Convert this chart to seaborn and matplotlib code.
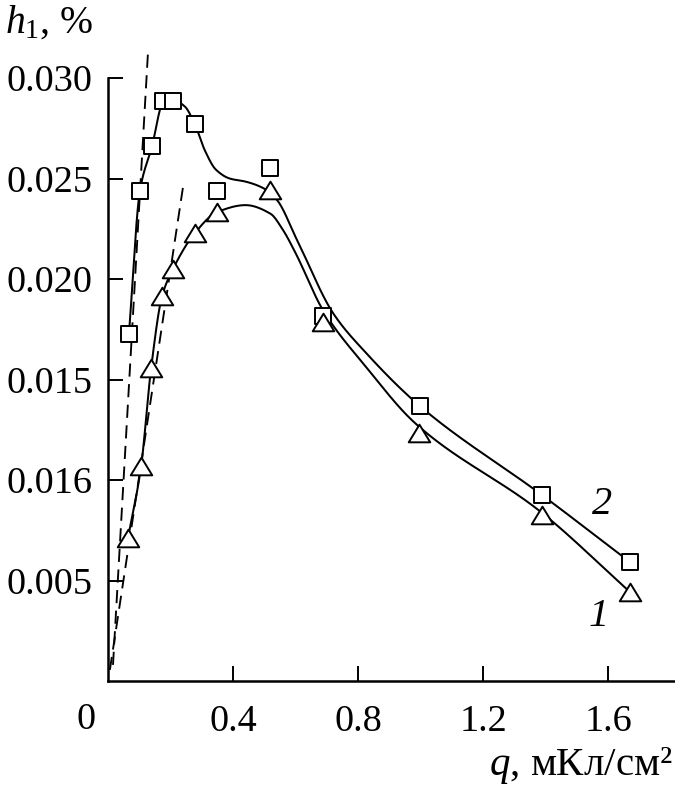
import numpy as np
import matplotlib
matplotlib.use('Agg')
import matplotlib.pyplot as plt
from matplotlib.path import Path
import seaborn as sns

# measured points, curve 1 (triangles) and curve 2 (squares)
q1 = [0.064, 0.106, 0.138, 0.173, 0.208, 0.278, 0.349, 0.518, 0.688, 0.995, 1.389, 1.670]
h1 = [0.00711, 0.0107, 0.01557, 0.01915, 0.0205, 0.02229, 0.02333, 0.02443, 0.01786, 0.01234, 0.00826, 0.00443]
q2 = [0.067, 0.102, 0.141, 0.176, 0.208, 0.278, 0.349, 0.518, 0.688, 0.998, 1.389, 1.670]
h2 = [0.01726, 0.02438, 0.02662, 0.02886, 0.02886, 0.02771, 0.02438, 0.02552, 0.01816, 0.01368, 0.00925, 0.00592]

# drawn (fitted) curves
fit1_q = [0.064, 0.106, 0.138, 0.173, 0.208, 0.278, 0.349, 0.44, 0.52, 0.56, 0.60, 0.688, 0.826, 0.982, 1.386, 1.670]
fit1_h = [0.00711, 0.0107, 0.01557, 0.01915, 0.0205, 0.02229, 0.02333, 0.02368, 0.02325, 0.02244, 0.0213, 0.01845, 0.01562, 0.01284, 0.0084, 0.00443]
fit2_q = [0.067, 0.102, 0.141, 0.176, 0.208, 0.245, 0.278, 0.31, 0.345, 0.39, 0.44, 0.50, 0.541, 0.605, 0.720, 0.826, 0.998, 1.389, 1.670]
fit2_h = [0.01726, 0.02438, 0.02662, 0.02876, 0.02891, 0.0286, 0.0277, 0.0264, 0.02545, 0.0250, 0.02485, 0.0245, 0.02393, 0.02194, 0.01831, 0.01632, 0.01368, 0.00925, 0.00592]

# initial-slope dashed lines
tan_a_q = [0.016, 0.128]
tan_a_h = [0.0008, 0.0313]
tan_b_q = [0.006, 0.240]
tan_b_h = [0.00055, 0.02458]

xticks = [0.4, 0.8, 1.2, 1.6]
xticklabels = ['0.4', '0.8', '1.2', '1.6']
yticks = [0.005, 0.010, 0.015, 0.020, 0.025, 0.030]
yticklabels = ['0.005', '0.016', '0.015', '0.020', '0.025', '0.030']


def pchip(x, y, xs):
    x = np.asarray(x, float)
    y = np.asarray(y, float)
    h = np.diff(x)
    d = np.diff(y) / h
    m = np.zeros_like(y)
    m[0], m[-1] = d[0], d[-1]
    for k in range(1, len(x) - 1):
        if d[k - 1] * d[k] > 0:
            w1 = 2 * h[k] + h[k - 1]
            w2 = h[k] + 2 * h[k - 1]
            m[k] = (w1 + w2) / (w1 / d[k - 1] + w2 / d[k])
    idx = np.clip(np.searchsorted(x, xs) - 1, 0, len(x) - 2)
    t = (xs - x[idx]) / h[idx]
    h00 = 2 * t**3 - 3 * t**2 + 1
    h10 = t**3 - 2 * t**2 + t
    h01 = -2 * t**3 + 3 * t**2
    h11 = t**3 - t**2
    return h00 * y[idx] + h10 * h[idx] * m[idx] + h01 * y[idx + 1] + h11 * h[idx] * m[idx + 1]


sns.set_style('ticks')
plt.rcParams['font.family'] = ['Liberation Serif', 'DejaVu Serif']
plt.rcParams['mathtext.fontset'] = 'custom'
plt.rcParams['mathtext.rm'] = 'Liberation Serif'
plt.rcParams['mathtext.it'] = 'Liberation Serif:italic'
plt.rcParams['text.color'] = 'black'

fig = plt.figure(figsize=(6.75, 7.9), dpi=100)
ax = fig.add_axes([0.16, 0.138, 0.838, 0.814])

for fq, fh in [(fit1_q, fit1_h), (fit2_q, fit2_h)]:
    xs = np.linspace(fq[0], fq[-1], 800)
    sns.lineplot(x=xs, y=pchip(fq, fh, xs), ax=ax, color='black', lw=1.45,
                 sort=False, estimator=None, zorder=2)

for tq, th in [(tan_a_q, tan_a_h), (tan_b_q, tan_b_h)]:
    sns.lineplot(x=tq, y=th, ax=ax, color='black', lw=1.35,
                 linestyle=(0, (7, 4)), sort=False, estimator=None, zorder=2)

tri = Path([(0, 0.82), (-1, -0.82), (1, -0.82), (0, 0.82)], closed=True)
sns.scatterplot(x=q2, y=h2, ax=ax, marker='s', s=135, color='black',
                facecolor='white', edgecolor='black', linewidth=1.4, zorder=3)
sns.scatterplot(x=q1, y=h1, ax=ax, marker=tri, s=240, color='black',
                facecolor='white', edgecolor='black', linewidth=1.4, zorder=4)

ax.set_xlim(0, 1.81)
ax.set_ylim(0, 0.032)
ax.set_xticks(xticks)
ax.set_xticklabels(xticklabels)
ax.set_yticks(yticks)
ax.set_yticklabels(yticklabels)
ax.tick_params(direction='in', length=11, width=1.4, labelsize=27.5, colors='black')
ax.tick_params(axis='x', pad=17)
ax.tick_params(axis='y', pad=11)
sns.despine(ax=ax)
ax.spines['left'].set_bounds(0, 0.030)
for s in ['left', 'bottom']:
    ax.spines[s].set_linewidth(1.8)
    ax.spines[s].set_color('black')
ax.set_xlabel('')
ax.set_ylabel('')

fig.text(86 / 675, 1 - 720 / 790, '0', fontsize=27.5, ha='center', va='center')
fig.text(5 / 675, 1 - 33 / 790, r'$h_1$, %', fontsize=28.5, ha='left', va='baseline')
fig.text(673 / 675, 1 - 775 / 790, r'$q$, мКл/см²', fontsize=29.5, ha='right', va='baseline')
ax.text(1.58, 0.0088, '2', fontsize=29, style='italic', ha='center', va='center')
ax.text(1.57, 0.0032, '1', fontsize=29, style='italic', ha='center', va='center')

fig.savefig('out.png', dpi=100, facecolor='white')
